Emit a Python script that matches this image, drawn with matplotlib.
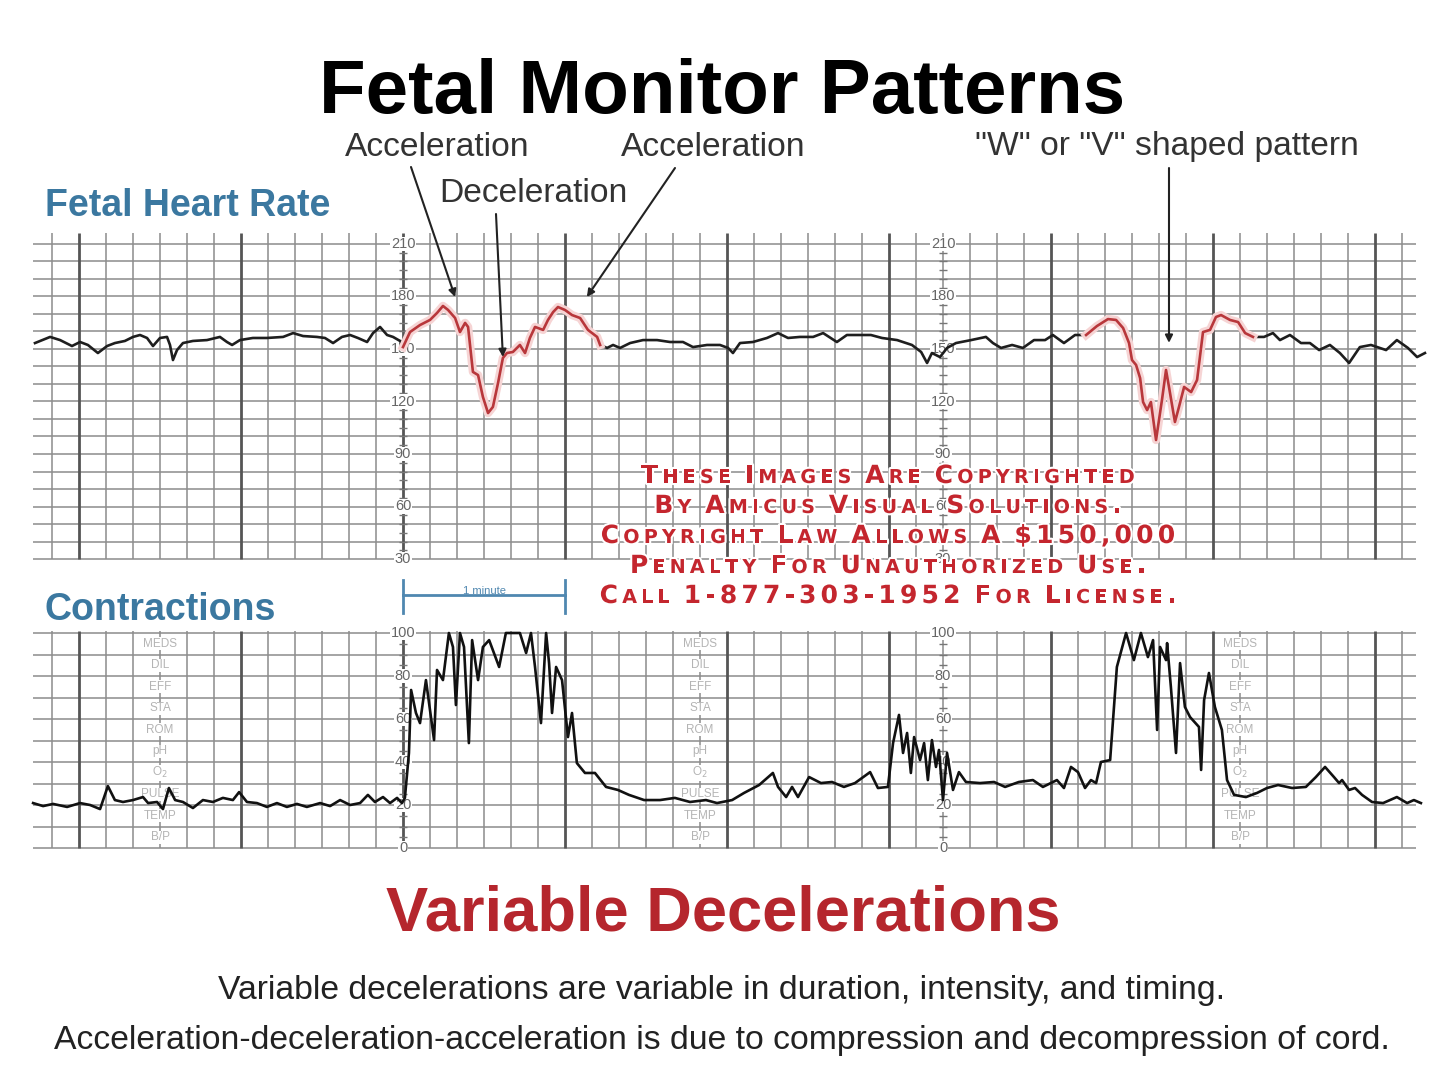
import matplotlib.pyplot as plt
import matplotlib.patheffects as pe
from matplotlib.offsetbox import TextArea, HPacker, AnnotationBbox
import numpy as np

# tamanho final em pixels
W, H = 1440, 1074


def px(x, y):
    # pixel da imagem -> fração da figura
    return x / W, 1 - y / H


# ---------------- dados ----------------
# frequência cardíaca fetal (segundos a partir do eixo, bpm)
fhr_sec = [-136.3, -130.7, -127.0, -122.6, -119.6, -116.7, -113.0, -109.6, -106.7, -103.0,
           -100.0, -97.4, -94.8, -92.6, -90.0, -87.4, -86.3, -85.2, -83.7, -81.5,
           -77.8, -72.6, -67.8, -65.2, -63.3, -60.4, -55.6, -50.4, -44.4, -40.7,
           -37.0, -31.9, -28.9, -25.9, -22.6, -19.6, -16.7, -13.3, -11.1, -8.5,
           -5.9, -3.7, -1.1, 0.0, 2.6, 6.3, 10.0, 12.6, 14.8, 16.7,
           19.3, 21.1, 23.0, 24.1, 25.9, 27.8, 29.6, 31.5, 33.3, 35.2,
           37.0, 38.5, 40.7, 43.3, 45.2, 47.0, 48.9, 51.9, 53.7, 55.6,
           57.4, 60.0, 62.6, 65.6, 68.5, 71.9, 73.0, 75.6, 77.8, 80.4,
           84.1, 88.9, 94.1, 98.9, 103.7, 107.4, 112.6, 117.4, 120.4, 122.2,
           124.8, 129.6, 134.8, 138.9, 142.6, 147.0, 151.9, 155.6, 160.7, 164.4,
           169.3, 173.3, 177.4, 183.0, 188.5, 191.9, 194.1, 195.9, 198.9, 201.5,
           204.8, 210.4, 215.9, 218.5, 221.5, 225.6, 229.6, 233.7, 237.8, 240.7,
           244.8, 248.9, 253.0, 257.0, 261.1, 264.1, 266.7, 268.9, 270.0, 271.5,
           273.0, 274.1, 275.6, 277.0, 278.9, 281.1, 282.6, 283.7, 285.9, 287.4,
           289.3, 291.9, 294.1, 296.3, 298.9, 301.1, 303.0, 306.3, 309.3, 311.9,
           314.8, 318.9, 322.2, 324.8, 328.5, 332.6, 335.9, 339.3, 343.3, 347.0,
           350.4, 354.4, 358.5, 364.1, 368.1, 372.2, 375.6, 378.5]
fhr_bpm = [153.4, 156.9, 155.1, 151.7, 154.0, 152.3, 147.7, 151.7, 153.4, 154.6,
           156.9, 158.0, 156.3, 151.7, 156.3, 156.9, 152.3, 143.7, 149.4, 153.4,
           154.6, 155.1, 156.9, 154.0, 152.3, 155.1, 156.3, 156.3, 156.9, 159.1,
           157.4, 156.9, 156.3, 153.4, 156.9, 158.0, 156.3, 154.0, 159.1, 162.6,
           158.0, 156.9, 154.6, 151.1, 159.7, 163.7, 166.6, 170.6, 174.6, 172.3,
           167.7, 159.7, 164.9, 162.6, 136.9, 135.1, 122.6, 113.4, 116.9, 130.6,
           144.9, 147.7, 148.3, 152.3, 147.7, 156.3, 162.6, 160.9, 166.6, 171.1,
           174.0, 172.3, 169.4, 167.7, 160.9, 156.9, 152.3, 150.6, 152.3, 150.6,
           153.4, 155.1, 155.1, 154.0, 154.0, 151.1, 152.3, 152.3, 150.6, 147.7,
           153.4, 154.0, 156.3, 159.1, 156.3, 156.9, 156.9, 159.1, 154.0, 158.0,
           158.0, 158.0, 156.3, 155.1, 152.3, 148.3, 142.0, 147.7, 145.4, 150.6,
           153.4, 155.1, 156.9, 153.4, 150.6, 152.3, 150.6, 155.1, 155.1, 158.0,
           153.4, 158.0, 158.0, 163.1, 167.1, 166.6, 162.0, 153.4, 143.7, 140.9,
           133.4, 119.7, 115.1, 119.7, 98.0, 120.9, 138.0, 128.3, 108.3, 116.9,
           128.3, 125.4, 132.3, 159.7, 160.9, 168.3, 169.4, 166.6, 165.4, 159.1,
           156.9, 156.9, 159.1, 155.1, 158.0, 153.4, 153.4, 149.4, 152.3, 147.7,
           142.0, 151.1, 152.3, 149.4, 155.1, 150.6, 145.4, 147.7]
# trechos destacados em vermelho (segundos)
red_spans = [(0.0, 73.0), (253.0, 314.8)]

# contrações uterinas (segundos, unidades 0-100)
uc_sec = [-137.0, -133.3, -129.6, -124.4, -119.6, -115.9, -112.2, -109.3, -106.7, -103.7,
          -100.0, -96.3, -94.4, -91.1, -88.9, -86.7, -84.4, -81.5, -77.8, -74.1,
          -70.4, -66.7, -63.0, -60.7, -57.8, -54.1, -50.4, -46.7, -43.0, -39.3,
          -35.6, -30.7, -27.0, -23.3, -19.6, -15.9, -13.0, -10.4, -7.4, -4.8,
          -2.2, -0.4, 0.7, 2.2, 3.0, 4.8, 6.3, 8.5, 11.5, 12.6,
          14.8, 17.0, 18.5, 19.6, 21.1, 22.6, 24.4, 25.6, 27.8, 29.6,
          31.9, 35.6, 38.1, 43.3, 45.6, 47.4, 48.9, 51.1, 53.0, 54.1,
          55.2, 56.7, 58.9, 61.1, 62.6, 64.4, 67.4, 71.1, 75.2, 79.6,
          83.7, 89.3, 95.2, 100.7, 106.3, 112.2, 116.3, 121.9, 126.3, 131.9,
          137.0, 138.9, 141.9, 144.1, 146.3, 150.4, 154.8, 158.9, 163.3, 167.4,
          173.0, 175.9, 179.6, 181.5, 183.7, 185.2, 186.7, 188.1, 189.3, 191.5,
          193.0, 194.4, 195.9, 197.4, 198.5, 200.0, 201.5, 203.7, 205.9, 208.5,
          213.7, 218.9, 223.0, 228.1, 233.3, 237.0, 242.2, 244.8, 247.4, 250.0,
          252.6, 254.8, 256.7, 258.5, 261.9, 264.4, 267.8, 270.7, 273.3, 275.9,
          277.8, 279.3, 280.4, 282.6, 283.0, 284.4, 286.3, 287.8, 289.6, 291.5,
          294.8, 295.6, 296.7, 298.5, 300.7, 303.3, 305.2, 307.8, 312.2, 316.3,
          320.0, 324.1, 329.3, 334.4, 338.1, 341.5, 344.8, 346.7, 347.8, 350.4,
          352.6, 355.2, 358.9, 363.0, 368.1, 371.9, 374.4, 377.0]
uc_val = [20.9, 19.5, 20.5, 19.1, 20.9, 20.0, 18.1, 28.8, 22.3, 21.4,
          22.3, 23.7, 20.9, 21.4, 18.1, 27.9, 22.3, 21.4, 18.6, 22.3,
          21.4, 23.3, 22.3, 26.0, 21.4, 20.9, 19.1, 20.9, 19.1, 20.5,
          19.1, 20.9, 19.5, 22.3, 20.0, 20.9, 24.7, 21.4, 23.7, 20.9,
          23.3, 20.9, 23.3, 44.2, 73.5, 62.8, 58.1, 78.1, 50.2, 82.8,
          78.1, 100.0, 93.5, 66.5, 100.0, 93.5, 48.8, 96.7, 78.1, 93.5,
          96.7, 84.2, 100.0, 100.0, 90.7, 100.0, 84.2, 58.1, 100.0, 86.0,
          62.8, 84.2, 78.1, 51.6, 62.8, 39.5, 34.9, 34.9, 28.4, 27.0,
          24.7, 22.3, 22.3, 23.3, 21.4, 22.3, 20.9, 22.3, 25.6, 29.3,
          34.9, 28.4, 23.7, 28.4, 23.7, 33.0, 30.2, 30.7, 28.4, 30.2,
          35.3, 27.9, 28.4, 48.8, 61.9, 44.2, 53.5, 34.9, 51.6, 40.9,
          48.8, 31.6, 50.2, 37.7, 45.6, 22.3, 44.2, 27.0, 35.3, 30.7,
          30.2, 30.7, 28.4, 30.7, 31.6, 28.4, 31.6, 27.9, 37.7, 35.3,
          27.9, 31.6, 30.2, 40.0, 40.9, 84.2, 100.0, 87.4, 100.0, 88.8,
          96.7, 54.9, 93.5, 87.4, 95.3, 74.9, 44.2, 86.0, 65.6, 60.9,
          56.3, 36.3, 68.8, 81.4, 65.6, 54.9, 31.6, 24.7, 23.7, 25.6,
          27.9, 29.3, 27.9, 28.4, 33.0, 37.7, 33.0, 30.2, 31.6, 27.0,
          27.9, 24.7, 21.4, 20.9, 23.7, 20.9, 22.3, 20.9]

fhr_ticks = [210, 180, 150, 120, 90, 60, 30]
uc_ticks = [100, 80, 60, 40, 20, 0]
axis_pos = [0, 200]             # segundos onde ficam as escalas
label_cols = [-90, 110, 310]    # colunas de rótulos cinza
chart_labels = ['MEDS', 'DIL', 'EFF', 'STA', 'ROM', 'pH', 'O$_2$', 'PULSE', 'TEMP', 'B/P']

watermark = ['These Images Are Copyrighted',
             'By Amicus Visual Solutions.',
             'Copyright Law Allows A $150,000',
             'Penalty For Unauthorized Use.',
             'Call 1-877-303-1952 For License.']

# ---------------- figura ----------------
fig = plt.figure(figsize=(W / 100, H / 100), dpi=100)
fig.patch.set_facecolor('white')
plt.rcParams['font.family'] = ['Liberation Sans', 'DejaVu Sans']

# eixo do BCF: pixels x 30..1430, y 228..562
ax1 = fig.add_axes([30 / W, 1 - 562 / H, 1400 / W, 334 / H])
ax1.set_xlim((30 - 403) / 2.7, (1430 - 403) / 2.7)
ax1.set_ylim(210 - (562 - 244) / 1.75, 210 + (244 - 228) / 1.75)
ax1.axis('off')

# eixo das contrações: pixels y 625..855
ax2 = fig.add_axes([30 / W, 1 - 855 / H, 1400 / W, 230 / H])
ax2.set_xlim((30 - 403) / 2.7, (1430 - 403) / 2.7)
ax2.set_ylim(100 - (855 - 633) / 2.15, 100 + (633 - 625) / 2.15)
ax2.axis('off')

grid_x = np.arange(-130, 371, 10)
thin_c, thick_c = '#8c8c8c', '#555555'


def draw_grid(ax, y0, y1, ytop, step):
    ax.hlines(np.arange(y0, y1 + 1, step), -137, 375, color=thin_c, lw=1.1, zorder=1)
    for s in grid_x:
        thick = (s % 60 == 0)
        ax.vlines(s, y0, ytop, color=thick_c if thick else thin_c,
                  lw=2.0 if thick else 1.1, zorder=1)


draw_grid(ax1, 30, 210, 216, 10)
draw_grid(ax2, 0, 100, 101, 10)

# escalas com rótulos
for s in axis_pos:
    ax1.plot([s] * 37, np.arange(30, 211, 5), marker='_', ms=6, color='#777', lw=0, zorder=2)
    ax2.plot([s] * 21, np.arange(0, 101, 5), marker='_', ms=6, color='#777', lw=0, zorder=2)
    for t in fhr_ticks:
        ax1.text(s, t, str(t), ha='center', va='center', fontsize=10.5, color='#666',
                 bbox=dict(facecolor='white', edgecolor='none', pad=0.3), zorder=3)
    for t in uc_ticks:
        ax2.text(s, t, str(t), ha='center', va='center', fontsize=10.5, color='#666',
                 bbox=dict(facecolor='white', edgecolor='none', pad=0.3), zorder=3)

# rótulos cinza do papel
for s in label_cols:
    for i, lab in enumerate(chart_labels):
        ax2.text(s, 95 - 10 * i, lab, ha='center', va='center', fontsize=8.5,
                 color='#b4b4b4', zorder=2,
                 bbox=dict(facecolor='white', edgecolor='none', pad=0.4))

# traçado do BCF
fs = np.array(fhr_sec)
fb = np.array(fhr_bpm)
ax1.plot(fs, fb, color='#1e1e1e', lw=1.9, zorder=4)
for a, b in red_spans:
    m = (fs >= a) & (fs <= b)
    ax1.plot(fs[m], fb[m], color='#b8373b', lw=1.9, zorder=5,
             path_effects=[pe.Stroke(linewidth=6, foreground='#f6d4d4'), pe.Normal()])

# traçado das contrações
ax2.plot(uc_sec, uc_val, color='#111', lw=1.9, zorder=4)

# setas das anotações
arrow = dict(arrowstyle='-|>', color='#222', lw=1.5, mutation_scale=11, shrinkA=0, shrinkB=0)
ax1.annotate('', xy=(19.3, 179.7), xytext=px(411, 167), textcoords='figure fraction',
             arrowprops=arrow, zorder=6)
ax1.annotate('', xy=(37.0, 145.4), xytext=px(496, 214), textcoords='figure fraction',
             arrowprops=arrow, zorder=6)
ax1.annotate('', xy=(68.1, 179.7), xytext=px(675, 168), textcoords='figure fraction',
             arrowprops=arrow, zorder=6)
ax1.annotate('', xy=(283.7, 153.5), xytext=px(1169, 168), textcoords='figure fraction',
             arrowprops=arrow, zorder=6)

# textos
fig.text(*px(722, 93), 'Fetal Monitor Patterns', ha='center', va='center',
         fontsize=55, fontweight='bold', color='black')
ann = dict(ha='center', va='center', fontsize=24.2, color='#333')
fig.text(*px(437, 147), 'Acceleration', **ann)
fig.text(*px(533, 194), 'Deceleration', **ann)
fig.text(*px(713, 147), 'Acceleration', **ann)
fig.text(*px(1167, 147), '"W" or "V" shaped pattern', **ann)

fig.text(*px(45, 206), 'Fetal Heart Rate', ha='left', va='center', fontsize=27,
         fontweight='bold', color='#3b78a0')
fig.text(*px(45, 610), 'Contractions', ha='left', va='center', fontsize=27,
         fontweight='bold', color='#3b78a0')

# barra de 1 minuto
bar_c = '#4f87b0'
ax2.plot([0, 60], [117.7, 117.7], color=bar_c, lw=2, clip_on=False)
ax2.plot([0, 0], [109.3, 124.7], color=bar_c, lw=2, clip_on=False)
ax2.plot([60, 60], [109.3, 124.7], color=bar_c, lw=2, clip_on=False)
ax2.text(30, 117.2, '1 minute', ha='center', va='bottom', fontsize=8, color=bar_c)

fig.text(*px(723, 914), 'Variable Decelerations', ha='center', va='center',
         fontsize=45.5, fontweight='bold', color='#b5262d')
fig.text(*px(722, 991), 'Variable decelerations are variable in duration, intensity, and timing.',
         ha='center', va='center', fontsize=24.3, color='#222')
fig.text(*px(722, 1041),
         'Acceleration-deceleration-acceleration is due to compression and decompression of cord.',
         ha='center', va='center', fontsize=24.3, color='#222')

# marca d'água em versalete
wm_red = '#c4262e'
halo = [pe.withStroke(linewidth=3, foreground='white')]


def small_caps_line(text):
    words = []
    for word in text.split(' '):
        chars = []
        for ch in word:
            size = 13.8 if ch.islower() else 18
            chars.append(TextArea(ch.upper(), textprops=dict(
                fontsize=size, fontweight='bold', color=wm_red,
                family='DejaVu Sans', path_effects=halo)))
        words.append(HPacker(children=chars, align='baseline', pad=0, sep=3.0))
    return HPacker(children=words, align='baseline', pad=0, sep=10)


for i, line in enumerate(watermark):
    ab = AnnotationBbox(small_caps_line(line), px(888, 476 + 30 * i),
                        xycoords='figure fraction', frameon=False,
                        box_alignment=(0.5, 0.5), zorder=10)
    fig.add_artist(ab)

fig.savefig('out.png', dpi=100, facecolor='white')
